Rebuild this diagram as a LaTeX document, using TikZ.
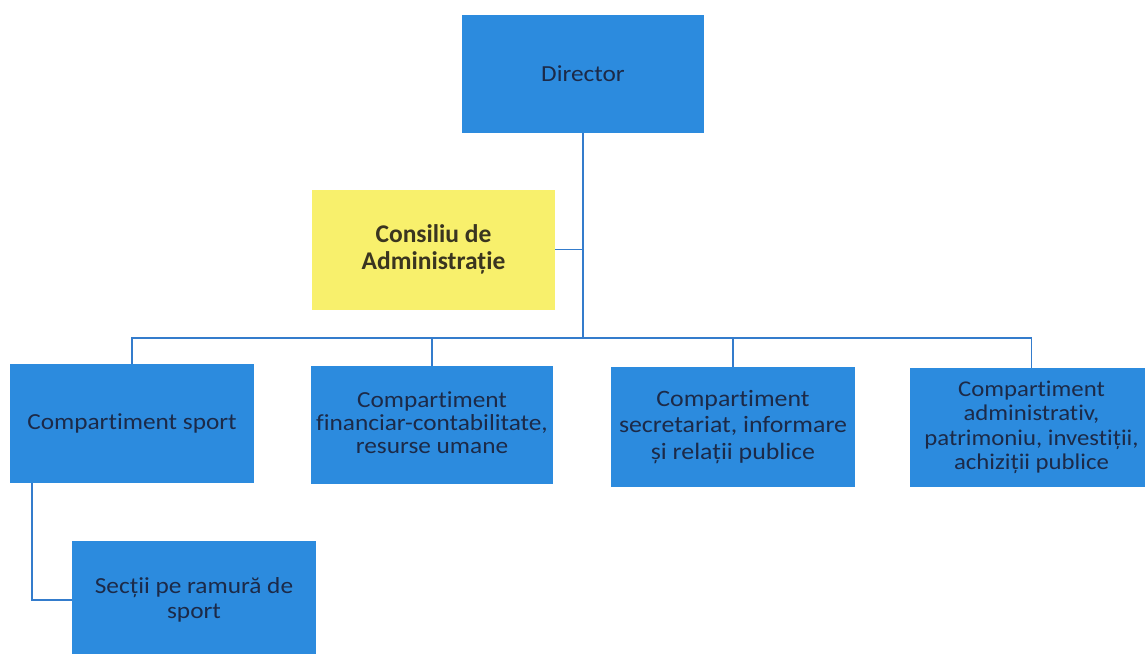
\documentclass[tikz,border=0pt]{standalone}
\usepackage{fontspec}
\setmainfont{Carlito}[FakeStretch=1.1, Ligatures=NoCommon]
\newfontfamily\consfont{Carlito}[Ligatures=NoCommon]
\definecolor{boxblue}{RGB}{44,139,222}
\definecolor{boxtext}{RGB}{28,42,72}
\definecolor{boxyellow}{RGB}{248,240,108}
\definecolor{constext}{RGB}{58,53,32}
\definecolor{linkblue}{RGB}{52,124,204}
\tikzset{
  orgbox/.style={fill=boxblue, draw=none, text=boxtext, align=center, inner sep=0pt,
    minimum width=243pt, minimum height=119pt, font=\fontsize{23}{25}\selectfont},
  consbox/.style={fill=boxyellow, draw=none, text=constext, align=center, inner sep=0pt,
    minimum width=243pt, minimum height=120pt, font=\consfont\bfseries\fontsize{25.5}{27}\selectfont},
  link/.style={draw=linkblue, line width=1.5pt}
}
\begin{document}
\begin{tikzpicture}[x=1pt,y=-1pt]
\useasboundingbox (0,0) rectangle (1145,653);
\fill[white] (0,0) rectangle (1145,653);
\node[orgbox, minimum width=242pt, minimum height=118pt] (dir) at (583,74) {Director};
\node[consbox] (cons) at (433.5,249.5) {Consiliu de\\Administrație};
\node[orgbox, minimum width=244pt] (b1) at (132,423.5) {Compartiment sport};
\node[orgbox, minimum width=242pt, minimum height=118pt, font=\fontsize{23}{23}\selectfont,
  text depth=4pt] (b2) at (432,425) {Compartiment\\financiar-contabilitate,\\resurse umane};
\node[orgbox, minimum width=244pt, minimum height=120pt, font=\fontsize{23.5}{26.5}\selectfont] (b3) at (733,427) {Compartiment\\secretariat, informare\\și relații publice};
\node[orgbox, font=\fontsize{22.5}{24.5}\selectfont] (b4) at (1031.5,427.5) {Compartiment\\administrativ,\\patrimoniu, investiții,\\achiziții publice};
\node[orgbox, minimum width=244pt, minimum height=118pt] (sec) at (194,600) {Secții pe ramură de\\sport};
\coordinate (bus) at (0,338);
\draw[link] (dir.south) -- (dir.south |- bus);
\draw[link] (b1.north) -- (b1.north |- bus) -- (b4.north |- bus) -- (b4.north);
\draw[link] (b2.north) -- (b2.north |- bus);
\draw[link] (b3.north) -- (b3.north |- bus);
\draw[link] (cons.east) -- (cons.east -| dir.south);
\draw[link] ([xshift=-100pt]b1.south) |- (sec.west);
\end{tikzpicture}
\end{document}
